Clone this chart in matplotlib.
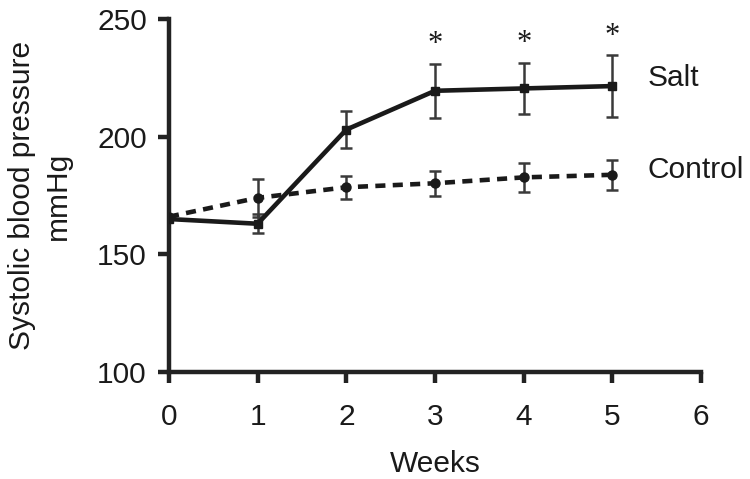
import matplotlib
matplotlib.use("Agg")
import matplotlib.pyplot as plt

plt.rcParams['font.family'] = ['Liberation Sans', 'DejaVu Sans']

weeks = [0, 1, 2, 3, 4, 5]
salt = [165, 163, 203, 219.5, 220.5, 221.5]
salt_err = [0, 4, 8, 11.5, 11, 13]
control = [166, 174, 178.5, 180.2, 182.7, 183.8]
control_err = [0, 8, 5, 5.3, 6, 6.5]
star_weeks = [3, 4, 5]

fs = 21.5
ink = '#1a1a1a'

fig = plt.figure(figsize=(7.5, 4.79), dpi=100)
ax = fig.add_axes([0.2253, 0.2234, 0.7094, 0.7369])

ax.errorbar(weeks, salt, yerr=salt_err, color=ink, lw=3.3, ls='-',
            marker='s', ms=6, ecolor='#3a3a3a', elinewidth=1.8, capsize=4.5,
            capthick=1.8, zorder=3)
ax.errorbar(weeks, control, yerr=control_err, color=ink, lw=3.3,
            ls=(0, (2.2, 1.6)), marker='o', ms=6.5, ecolor='#3a3a3a',
            elinewidth=1.8, capsize=4.5, capthick=1.8, zorder=3)

for w in star_weeks:
    i = weeks.index(w)
    top = salt[i] + salt_err[i]
    ax.text(w, top + 8, '*', ha='center', va='center', fontsize=22,
            family='Liberation Serif', color=ink)

ax.text(5.4, 225, 'Salt', fontsize=fs, va='center', color=ink)
ax.text(5.4, 186, 'Control', fontsize=fs, va='center', color=ink)

ax.set_xlim(0, 6)
ax.set_ylim(100, 250)
ax.set_xticks(range(0, 7))
ax.set_yticks([100, 150, 200, 250])
ax.spines['top'].set_visible(False)
ax.spines['right'].set_visible(False)
for s in ['left', 'bottom']:
    ax.spines[s].set_linewidth(3.2)
    ax.spines[s].set_color('#222222')
ax.tick_params(axis='both', direction='out', length=8, width=3.2,
               color='#222222', labelsize=fs, labelcolor=ink)
ax.tick_params(axis='x', pad=14)
ax.tick_params(axis='y', pad=8)
ax.set_xlabel('Weeks', fontsize=fs, labelpad=14, color=ink)
ax.set_ylabel('Systolic blood pressure\nmmHg', fontsize=fs, labelpad=18,
              color=ink, linespacing=1.35)

fig.savefig('out.png', dpi=100)
